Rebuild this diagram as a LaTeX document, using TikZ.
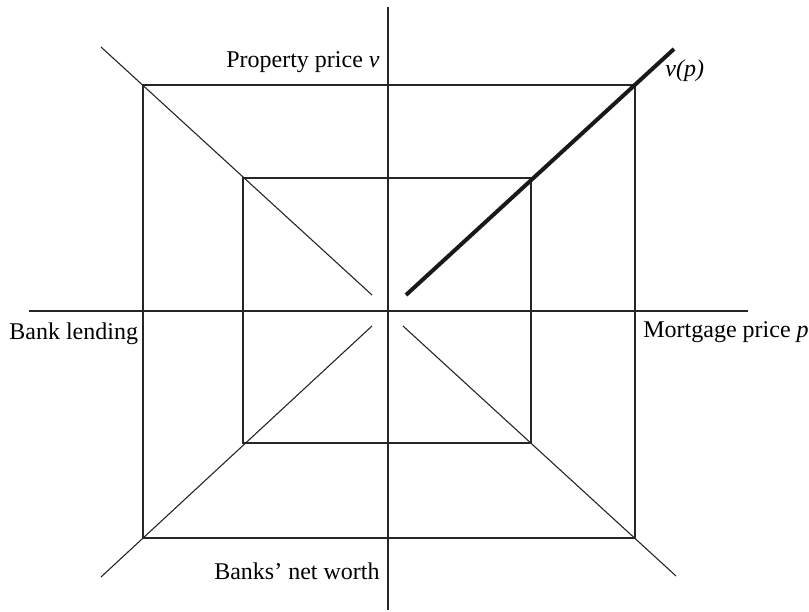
\documentclass[tikz,border=0pt]{standalone}
\usepackage{fontspec}
\setmainfont{Liberation Serif}
\usetikzlibrary{positioning}
\tikzset{
  axis/.style={line width=0.6pt, black!85},
  frame/.style={line width=0.6pt, black!85},
  ray/.style={line width=0.55pt, black!85},
  curve/.style={line width=2pt, black!90},
  lbl/.style={inner sep=0pt, font=\fontsize{12}{14}\selectfont}
}
\begin{document}
\begin{tikzpicture}[x=0.5pt, y=0.5pt]
  \useasboundingbox (-388,-300) rectangle (421,311);
  % axes
  \coordinate (vtop) at (0,304);
  \coordinate (vbot) at (0,-299);
  \coordinate (hleft) at (-359,0);
  \coordinate (hright) at (360,0);
  \draw[axis] (vtop) -- (vbot);
  \draw[axis] (hleft) -- (hright);
  % rectangles
  \coordinate (otl) at (-245,226); \coordinate (obr) at (247,-227);
  \coordinate (itl) at (-145,133); \coordinate (ibr) at (143,-132);
  \draw[frame] (otl) rectangle (obr);
  \draw[frame] (itl) rectangle (ibr);
  % rays
  \coordinate (ula) at (-287,264); \coordinate (ulb) at (-16,16);
  \coordinate (lla) at (-287,-266); \coordinate (llb) at (-16,-15);
  \coordinate (lra) at (288,-265); \coordinate (lrb) at (15,-15);
  \coordinate (va) at (18,16); \coordinate (vb) at (286,262);
  \draw[ray] (ula) -- (ulb);
  \draw[ray] (lla) -- (llb);
  \draw[ray] (lra) -- (lrb);
  \draw[curve] (va) -- (vb);
  % labels
  \node[lbl, anchor=base east] (pv) at (-8,243) {Property price \textit{v}};
  \node[lbl, anchor=base west] (vp) at (277,234) {\textit{v(p)}};
  \node[lbl, anchor=base west] (bl) at (-379,-28) {Bank lending};
  \node[lbl, anchor=base west] (mp) at (255,-26) {Mortgage price \textit{p}};
  \node[lbl, anchor=base east] (nw) at (-8,-268) {Banks’ net worth};
\end{tikzpicture}
\end{document}
